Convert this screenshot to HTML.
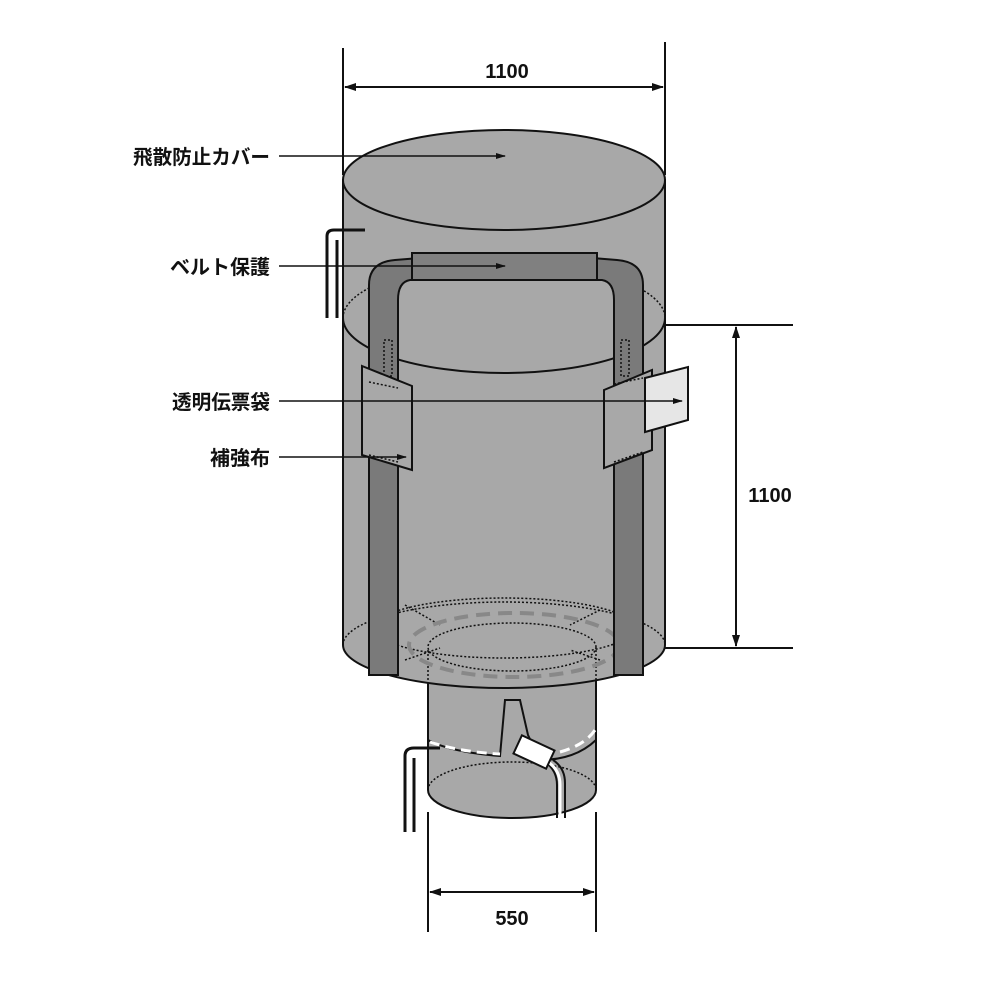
<!DOCTYPE html>
<html><head><meta charset="utf-8"><style>
html,body{margin:0;padding:0;background:#fff;}
svg{display:block;}
text{font-family:"Liberation Sans","Noto Sans CJK JP",sans-serif;font-weight:bold;fill:#111;}
</style></head><body>
<svg width="1000" height="1000" viewBox="0 0 1000 1000" xmlns="http://www.w3.org/2000/svg">
<defs>
<marker id="ar" markerWidth="10" markerHeight="8" refX="9" refY="4" orient="auto" markerUnits="userSpaceOnUse"><path d="M0,1 L10,4 L0,7 z" fill="#111"/></marker>
<marker id="ar2" markerWidth="12" markerHeight="10" refX="11" refY="5" orient="auto-start-reverse" markerUnits="userSpaceOnUse"><path d="M0,1 L12,5 L0,9 z" fill="#111"/></marker>
</defs>
<g stroke="#111" stroke-width="2">
<!-- spout -->
<path d="M428,660 L428,790 A84,28 0 0 0 596,790 L596,660 Z" fill="#a8a8a8"/>
<path d="M428,790 A84,28 0 0 1 596,790" fill="none" stroke-dasharray="2,2" stroke-width="1.5"/>
<!-- tie flap -->
<path d="M428,740 Q450,752 500,756 L505,700 L520,700 L528,735 L540,760 Q575,760 596,740" fill="#a8a8a8"/>
<path d="M430,742 Q460,752 500,754" fill="none" stroke="#fff" stroke-width="3" stroke-dasharray="10,6"/>
<path d="M560,752 Q585,745 595,730" fill="none" stroke="#fff" stroke-width="3" stroke-dasharray="10,6"/>
<!-- body -->
<path d="M343,180 L343,645 A161,43 0 0 0 665,645 L665,180 Z" fill="#a8a8a8"/>
<ellipse cx="504" cy="180" rx="161" ry="50" fill="#a8a8a8"/>
<!-- middle ellipse -->
<path d="M343,318 A161,55 0 0 0 665,318" fill="none"/>
<path d="M343,318 A161,55 0 0 1 665,318" fill="none" stroke-dasharray="2,2" stroke-width="1.5"/>
<!-- bottom inner dotted -->
<g fill="none" stroke-width="1.5" stroke-dasharray="2,2">
<path d="M343,645 A161,43 0 0 1 665,645"/>
<ellipse cx="512" cy="647" rx="84" ry="24"/>
<ellipse cx="504" cy="628" rx="130" ry="30"/>
<line x1="428" y1="650" x2="428" y2="680"/><line x1="596" y1="650" x2="596" y2="680"/>
<path d="M405,605 L440,625 M600,610 L570,625 M405,660 L440,648 M600,660 L570,650"/>
</g>
<ellipse cx="514" cy="645" rx="105" ry="32" fill="none" stroke="#888" stroke-width="4" stroke-dasharray="14,8"/>
<!-- straps -->
<path d="M369,675 L369,285 Q369,262 395,260 L420,258 L420,280 L410,280 Q398,282 398,300 L398,675 Z" fill="#7a7a7a"/>
<path d="M643,675 L643,285 Q643,262 617,260 L592,258 L592,280 L602,280 Q614,282 614,300 L614,675 Z" fill="#7a7a7a"/>
<rect x="412" y="253" width="185" height="27" fill="#808080"/>
<g fill="none" stroke-width="1.5" stroke-dasharray="2,2"><rect x="384" y="340" width="8" height="36"/><rect x="621" y="340" width="8" height="36"/></g>
<!-- patches -->
<path d="M362,366 L412,386 L412,470 L362,455 Z" fill="#a8a8a8"/>
<path d="M369,382 L398,388 M369,455 L398,462" stroke-dasharray="2,2" stroke-width="1.5"/>
<path d="M604,390 L652,370 L652,450 L604,468 Z" fill="#a8a8a8"/>
<path d="M614,384 L643,378 M614,462 L643,452" stroke-dasharray="2,2" stroke-width="1.5"/>
<path d="M645,378 L688,367 L688,420 L645,432 Z" fill="#e6e6e6"/>
<!-- ropes -->
<path d="M327,318 L327,236 Q327,230 334,230 L365,230" fill="none" stroke-width="3"/>
<path d="M337,318 L337,240" fill="none" stroke-width="3"/>
<path d="M405,832 L405,756 Q405,748 414,748 L440,748" fill="none" stroke-width="3"/>
<path d="M414,832 L414,758" fill="none" stroke-width="3"/>
<path d="M557,818 L557,785 Q557,770 545,762 M565,818 L565,783 Q565,768 553,760" fill="none" stroke-width="2"/>
<path d="M560,818 L560,785 Q560,770 548,762" fill="none" stroke="#fff" stroke-width="3"/>
<rect x="516" y="742" width="36" height="20" fill="#fff" transform="rotate(25 534 752)"/>
<!-- dimension lines -->
<line x1="343" y1="48" x2="343" y2="175"/><line x1="665" y1="42" x2="665" y2="175"/>
<line x1="345" y1="87" x2="663" y2="87" marker-start="url(#ar2)" marker-end="url(#ar2)"/>
<line x1="665" y1="325" x2="793" y2="325"/><line x1="665" y1="648" x2="793" y2="648"/>
<line x1="736" y1="327" x2="736" y2="646" marker-start="url(#ar2)" marker-end="url(#ar2)"/>
<line x1="428" y1="812" x2="428" y2="932"/><line x1="596" y1="812" x2="596" y2="932"/>
<line x1="430" y1="892" x2="594" y2="892" marker-start="url(#ar2)" marker-end="url(#ar2)"/>
<!-- leaders -->
<line x1="279" y1="156" x2="505" y2="156" stroke-width="1.5" marker-end="url(#ar)"/>
<line x1="279" y1="266" x2="505" y2="266" stroke-width="1.5" marker-end="url(#ar)"/>
<line x1="279" y1="401" x2="682" y2="401" stroke-width="1.5" marker-end="url(#ar)"/>
<line x1="279" y1="457" x2="406" y2="457" stroke-width="1.5" marker-end="url(#ar)"/>
</g>
<text x="507" y="78" font-size="20" text-anchor="middle">1100</text>
<text x="770" y="502" font-size="20" text-anchor="middle">1100</text>
<text x="512" y="925" font-size="20" text-anchor="middle">550</text>
<text x="270" y="164" font-size="20" text-anchor="end" textLength="137" lengthAdjust="spacingAndGlyphs">飛散防止カバー</text>
<text x="270" y="274" font-size="20" text-anchor="end" textLength="100" lengthAdjust="spacingAndGlyphs">ベルト保護</text>
<text x="270" y="409" font-size="20" text-anchor="end" textLength="98" lengthAdjust="spacingAndGlyphs">透明伝票袋</text>
<text x="270" y="465" font-size="20" text-anchor="end" textLength="60" lengthAdjust="spacingAndGlyphs">補強布</text>
</svg>
</body></html>
